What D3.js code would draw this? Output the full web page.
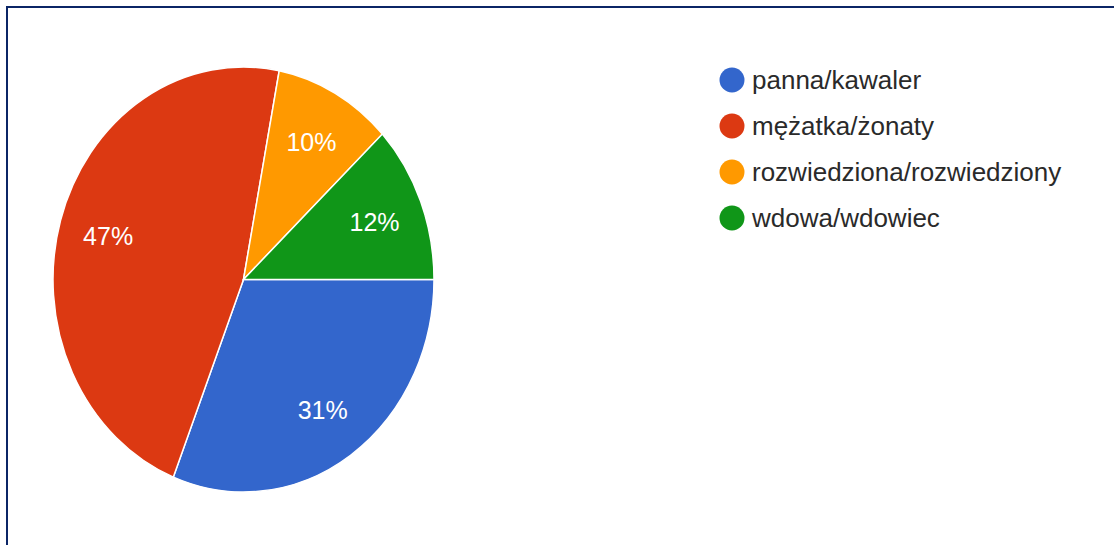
<!DOCTYPE html>
<html>
<head>
<meta charset="utf-8">
<script src="https://cdn.jsdelivr.net/npm/d3@7/dist/d3.min.js"></script>
<style>
  html, body { margin: 0; padding: 0; background: #ffffff; }
  svg { display: block; }
</style>
</head>
<body>
<svg id="chart" width="1114" height="545"></svg>
<script>
// Marital status breakdown of respondents (percent)
const categories = ["panna/kawaler", "mężatka/żonaty", "rozwiedziona/rozwiedziony", "wdowa/wdowiec"];
const values = [31, 47, 10, 12];
const colors = ["#3366cc", "#dc3912", "#ff9900", "#109618"];

const width = 1114, height = 545;
const cx = 243.5, cy = 279.5;
const rx = 190.5, ry = 212.5;        // the pie is drawn slightly taller than wide
const yScale = ry / rx;

const svg = d3.select("#chart");

// frame lines along the top and left edges
svg.append("line")
  .attr("x1", 6).attr("y1", 7).attr("x2", 1114).attr("y2", 7)
  .attr("stroke", "#0b2566").attr("stroke-width", 2);
svg.append("line")
  .attr("x1", 7).attr("y1", 6).attr("x2", 7).attr("y2", height)
  .attr("stroke", "#0b2566").attr("stroke-width", 2);

const data = categories.map((c, i) => ({ name: c, value: values[i], color: colors[i] }));

const pie = d3.pie()
  .value(d => d.value)
  .sort(null)
  .startAngle(Math.PI / 2)
  .endAngle(Math.PI / 2 + 2 * Math.PI);

const arcs = pie(data);

const arc = d3.arc().innerRadius(0).outerRadius(rx);
const labelArc = d3.arc().innerRadius(rx * 0.74).outerRadius(rx * 0.74);

const g = svg.append("g")
  .attr("transform", `translate(${cx},${cy}) scale(1,${yScale})`);

g.selectAll("path.slice")
  .data(arcs)
  .join("path")
  .attr("class", "slice")
  .attr("d", arc)
  .attr("fill", d => d.data.color)
  .attr("stroke", "#ffffff")
  .attr("stroke-width", 1.5)
  .attr("vector-effect", "non-scaling-stroke");

// percentage labels inside the slices
const total = d3.sum(values);
svg.append("g")
  .selectAll("text")
  .data(arcs)
  .join("text")
  .attr("x", d => cx + labelArc.centroid(d)[0])
  .attr("y", d => cy + labelArc.centroid(d)[1] * yScale)
  .attr("dy", "0.36em")
  .attr("text-anchor", "middle")
  .attr("fill", "#ffffff")
  .attr("font-family", "Arial, 'Liberation Sans', sans-serif")
  .attr("font-size", 25)
  .text(d => Math.round(d.data.value / total * 100) + "%");

// legend
const legendY = d3.scalePoint()
  .domain(categories)
  .range([80, 218]);

const legend = svg.append("g");
const rows = legend.selectAll("g")
  .data(data)
  .join("g")
  .attr("transform", d => `translate(732,${legendY(d.name)})`);

rows.append("circle")
  .attr("r", 12.5)
  .attr("fill", d => d.color);

rows.append("text")
  .attr("x", 20)
  .attr("dy", "0.36em")
  .attr("fill", "#2a2a2a")
  .attr("font-family", "Arial, 'Liberation Sans', sans-serif")
  .attr("font-size", 26)
  .text(d => d.name);
</script>
</body>
</html>
